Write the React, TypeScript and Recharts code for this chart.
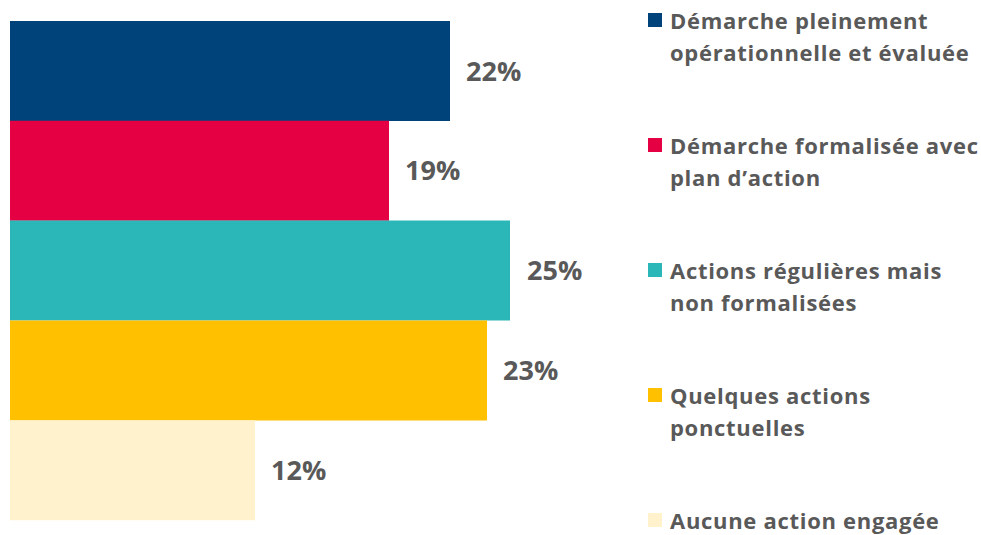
import { BarChart, Bar, XAxis, YAxis, Cell, LabelList, Legend } from "recharts"

const categories = [
  "Démarche pleinement opérationnelle et évaluée",
  "Démarche formalisée avec plan d’action",
  "Actions régulières mais non formalisées",
  "Quelques actions ponctuelles",
  "Aucune action engagée",
]
const legendLines = [
  ["Démarche pleinement", "opérationnelle et évaluée"],
  ["Démarche formalisée avec", "plan d’action"],
  ["Actions régulières mais", "non formalisées"],
  ["Quelques actions", "ponctuelles"],
  ["Aucune action engagée"],
]
const shares = [22, 18.95, 25.05, 23.85, 12.25]
const shareLabels = ["22%", "19%", "25%", "23%", "12%"]
const colors = ["#00437A", "#E40043", "#2BB7B8", "#FFC000", "#FFF2CD"]

const data = categories.map((name, i) => ({ name, value: shares[i], label: shareLabels[i] }))

const FONT = "'Open Sans', Lato, sans-serif"
const GREY = "#595959"

function LegendBlock() {
  return (
    <div style={{ position: "relative", width: 333, height: 535, fontFamily: FONT }}>
      {legendLines.map((lines, i) => (
        <div key={i} style={{ position: "absolute", left: 0, top: 4 + i * 125 }}>
          <div style={{ position: "absolute", left: 0, top: 9, width: 14, height: 14, background: colors[i] }} />
          {lines.map((t, j) => (
            <div
              key={j}
              style={{
                position: "absolute",
                left: 22,
                top: j * 32,
                whiteSpace: "nowrap",
                fontSize: 22,
                letterSpacing: 0.7,
                lineHeight: "32px",
                fontWeight: 700,
                color: GREY,
              }}
            >
              {t}
            </div>
          ))}
        </div>
      ))}
    </div>
  )
}

export default function App() {
  return (
    <div style={{ width: 981, height: 535 }}>
      <style>{"body{margin:0}"}</style>
      <BarChart
        width={981}
        height={535}
        data={data}
        layout="vertical"
        barCategoryGap={0}
        margin={{ top: 21, right: 471, bottom: 15, left: 10 }}
      >
        <XAxis type="number" domain={[0, 25]} hide allowDataOverflow />
        <YAxis type="category" dataKey="name" hide />
        <Legend
          layout="horizontal"
          verticalAlign="middle"
          align="center"
          wrapperStyle={{ left: 648, top: 0, width: 333, height: 535 }}
          content={() => <LegendBlock />}
        />
        <Bar dataKey="value" isAnimationActive={false}>
          {data.map((entry, index) => (
            <Cell key={`cell-${index}`} fill={colors[index]} />
          ))}
          <LabelList
            dataKey="label"
            position="right"
            offset={16}
            fill={GREY}
            style={{ fontFamily: FONT, fontSize: 27, fontWeight: 700 }}
          />
        </Bar>
      </BarChart>
    </div>
  )
}
